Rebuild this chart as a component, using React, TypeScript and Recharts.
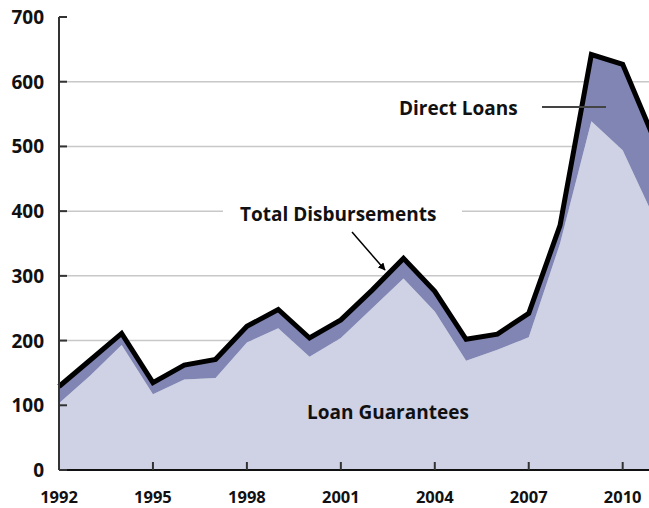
import { AreaChart, Area, XAxis, YAxis, CartesianGrid } from 'recharts';

const years = [1992, 1993, 1994, 1995, 1996, 1997, 1998, 1999, 2000, 2001, 2002, 2003, 2004, 2005, 2006, 2007, 2008, 2009, 2010, 2011];
const loanGuarantees = [103, 146, 193, 117, 140, 142, 197, 219, 175, 204, 250, 296, 245, 169, 186, 205, 350, 539, 494, 390];
const directLoans = [26, 24, 18, 18, 22, 29, 25, 29, 29, 28, 28, 31, 31, 33, 24, 37, 28, 103, 133, 122];
const xTicks = [1992, 1995, 1998, 2001, 2004, 2007, 2010];
const yTicks = [0, 100, 200, 300, 400, 500, 600, 700];
const gridValues = [100, 200, 300, 400, 500, 600];

const data = years.map((year, i) => ({
    year,
    guarantees: loanGuarantees[i],
    direct: directLoans[i],
}));

const FONT = '"Open Sans", sans-serif';

const YTick = ({ x, y, payload }: any) => (
    <g>
        <line x1={x + 15} x2={x + 23} y1={y} y2={y} stroke="#333" strokeWidth={2} />
        <text x={x} y={y + 7} textAnchor="end" fontFamily={FONT} fontWeight={700} fontSize={19} fill="#111">
            {payload.value}
        </text>
    </g>
);

const XTick = ({ x, y, payload }: any) => (
    <g>
        <line x1={x} x2={x} y1={y - 8} y2={y} stroke="#333" strokeWidth={2} />
        <text x={x} y={y + 33} textAnchor="middle" fontFamily={FONT} fontWeight={700} fontSize={16.5} fill="#111">
            {payload.value}
        </text>
    </g>
);

export default function App() {
    return (
        <div style={{ position: 'absolute', left: 0, top: 0, width: 649, height: 508, overflow: 'hidden', background: '#fff' }}>
            <AreaChart width={700} height={508} data={data} margin={{ top: 17, right: 46, bottom: 0, left: 0 }}>
                <CartesianGrid vertical={false} horizontalValues={gridValues} stroke="#c8c8c8" strokeWidth={1.5} />
                <XAxis
                    dataKey="year"
                    type="number"
                    domain={[1992, 2011]}
                    ticks={xTicks}
                    tick={<XTick />}
                    tickSize={0}
                    tickMargin={0}
                    tickLine={false}
                    height={38}
                    axisLine={{ stroke: '#111', strokeWidth: 2 }}
                />
                <YAxis
                    type="number"
                    domain={[0, 700]}
                    ticks={yTicks}
                    tick={<YTick />}
                    tickSize={0}
                    tickMargin={15}
                    tickLine={false}
                    width={59}
                    axisLine={{ stroke: '#333', strokeWidth: 2 }}
                />
                <Area
                    type="linear"
                    dataKey="guarantees"
                    stackId="a"
                    stroke="none"
                    fill="#cfd2e4"
                    fillOpacity={1}
                    isAnimationActive={false}
                />
                <Area
                    type="linear"
                    dataKey="direct"
                    stackId="a"
                    stroke="#000"
                    strokeWidth={5}
                    fill="#8085b3"
                    fillOpacity={1}
                    isAnimationActive={false}
                />
            </AreaChart>
            <svg width={649} height={508} style={{ position: 'absolute', left: 0, top: 0, pointerEvents: 'none' }}>
                <defs>
                    <marker id="arrowHead" viewBox="0 0 10 10" refX="9" refY="5" markerWidth="5" markerHeight="5" orient="auto">
                        <path d="M0,0 L10,5 L0,10 z" fill="#000" />
                    </marker>
                </defs>
                {/* annotations */}
                <rect x={223} y={200} width={239} height={26} fill="#fff" />
                <text x={240} y={221} fontFamily={FONT} fontWeight={700} fontSize={19} fill="#111">
                    Total Disbursements
                </text>
                <line x1={352} y1={232} x2={385} y2={270} stroke="#000" strokeWidth={1.5} markerEnd="url(#arrowHead)" />
                <text x={399} y={115} fontFamily={FONT} fontWeight={700} fontSize={19} fill="#111">
                    Direct Loans
                </text>
                <line x1={542} y1={107} x2={606} y2={107} stroke="#444" strokeWidth={2} />
                <text x={307} y={419} fontFamily={FONT} fontWeight={700} fontSize={19} fill="#111">
                    Loan Guarantees
                </text>
            </svg>
        </div>
    );
}
